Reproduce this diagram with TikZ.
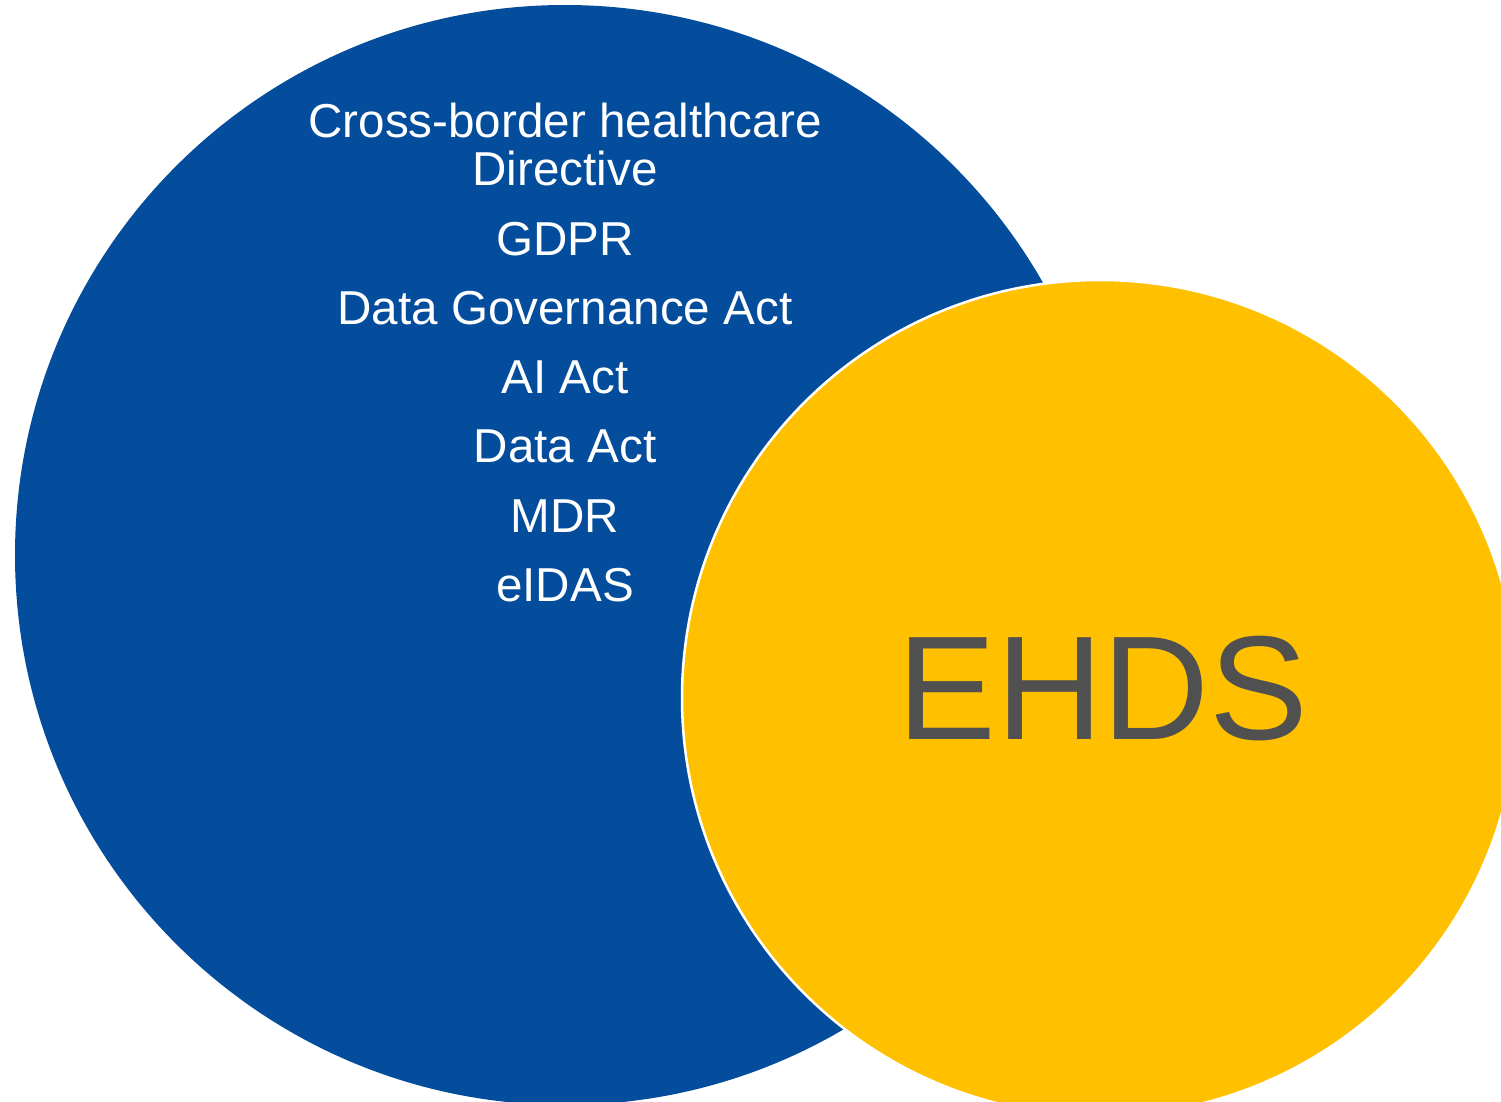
\documentclass[tikz,border=0pt]{standalone}
\usepackage{fontspec}
\setmainfont{Liberation Sans}
\definecolor{euBlue}{HTML}{044D9C}
\definecolor{euYellow}{HTML}{FFC000}
\definecolor{ehdsGray}{HTML}{505050}
\begin{document}
\begin{tikzpicture}[x=1pt,y=-1pt,
  law/.style={text=white,inner sep=0pt,anchor=base,font=\fontsize{47.6}{48}\selectfont},
  big/.style={text=ehdsGray,inner sep=0pt,anchor=base,font=\fontsize{148}{150}\selectfont}]
\useasboundingbox (0,0) rectangle (1501,1101);
\clip (0,0) rectangle (1501,1101);
\fill[white] (0,0) rectangle (1501,1101);
\fill[euBlue] (565,555) circle[radius=550];
\filldraw[fill=euYellow,draw=white,line width=2.5pt] (1100,698) circle[radius=418];
\node[law] (cb1) at (565,137) {Cross-border healthcare};
\node[law] (cb2) at (565,185) {Directive};
\node[law] (gdpr) at (565,255) {GDPR};
\node[law] (dga) at (565,324) {Data Governance Act};
\node[law] (ai) at (565,393) {AI Act};
\node[law] (da) at (565,462) {Data Act};
\node[law] (mdr) at (565,532) {MDR};
\node[law] (eidas) at (565,601) {eIDAS};
\node[big] (ehds) at (1103,739) {EHDS};
\end{tikzpicture}
\end{document}
